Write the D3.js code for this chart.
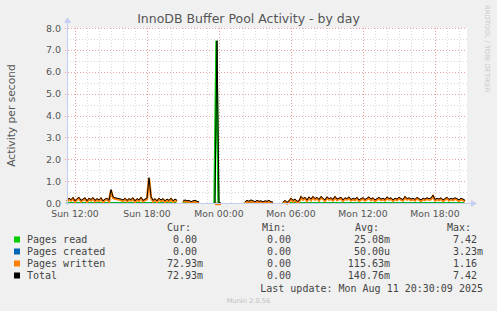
<!DOCTYPE html>
<html>
<head>
<meta charset="utf-8">
<script src="https://cdn.jsdelivr.net/npm/d3@7"></script>
<style>
  html, body { margin: 0; padding: 0; background: #f0f0f0; }
  svg { display: block; }
</style>
</head>
<body>
<div id="chart"></div>
<script>
// 10 minute samples, Sun 11:20 .. Mon 20:30 (null = no data)
const written = [
  0.12,0.22,0.15,0.25,0.1,0.2,0.26,0.12,0.18,0.24,0.1,0.22,0.16,0.25,0.12,0.2,0.14,0.24,0.1,0.18,0.22,0.12,
  0.62,
  0.28,0.24,0.22,0.2,0.18,0.14,0.22,0.12,0.2,0.16,0.24,0.1,0.2,0.14,0.26,0.12,0.18,0.22,
  1.16,0.3,
  0.12,0.2,0.1,0.22,0.14,0.2,0.1,0.18,0.12,0.22,0.1,0.18,0.12,
  null,null,
  0.08,0.14,0.1,0.12,0.06,0.1,0.12,0.08,0.05,
  null,null,null,null,null,null,null,
  0,0,0,0,
  null,null,null,null,null,null,null,null,null,null,null,
  0.06,0.12,0.08,0.14,0.1,0.06,0.12,0.08,0.1,0.05,0.1,0.08,0.12,0.06,0.04,
  null,null,null,null,
  0.04,0.12,0.03,0.1,
  0.22,0.12,0.18,0.08,0.1,0.3,0.2,0.26,0.14,0.28,
  0.18,0.3,0.2,0.26,0.16,0.3,0.22,0.14,0.28,0.2,
  0.24,0.16,0.3,0.18,0.22,0.26,0.14,0.24,0.2,0.28,
  0.16,0.22,0.18,0.26,0.14,0.2,0.24,0.16,0.22,0.28,
  0.18,0.24,0.14,0.2,0.26,0.18,0.22,0.16,0.28,0.2,
  0.24,0.14,0.22,0.18,0.26,0.2,0.16,0.3,0.2,0.24,
  0.18,0.22,0.16,0.26,0.2,0.14,0.22,0.18,0.24,0.2,
  0.22,0.36,0.16,0.22,0.18,0.24,0.14,0.2,0.26,0.16,
  0.22,0.18,0.24,0.2,0.14,0.22,0.18,0.12
];
const read = [
  0,0,0,0,0,0,0,0,0,0,0,0,0,0,0,0,0,0,0,0,0,0,0,0,0,0,0,0,
  0,0,0,0,0,0,0,0,0,0,0,0,0,0,0,0,0,0,0,0,0,0,0,0,0,0,0,0,
  null,null,
  0,0,0,0,0,0,0,0,0,
  null,null,null,null,null,null,null,
  0,7.42,0,0,
  null,null,null,null,null,null,null,null,null,null,null,
  0,0,0,0,0,0,0,0,0,0,0,0,0,0,0,
  null,null,null,null,
  0,0,0,0,0,0,0,0,0,0,0,0,0,0,0,0,0,0,0,0,0,0,0,
  0,0,0,0,0,0,0,0,0,0,0,0,0,0,0,0,0,0,0,0,0,0,0,
  0,0,0,0,0,0,0,0,0,0,0,0,0,0,0,0,0,0,0,0,0,0,0,
  0,0,0,0,0,0,0,0,0,0,0,0,0,0,0,0,0,0,0,0,0,0,0
];
const created = [
  0,0,0,0,0,0,0,0,0,0,0,0,0,0,0,0,0,0,0,0,0,0,0,0,0,0,0,0,
  0,0,0,0,0,0,0,0,0,0,0,0,0,0,0,0,0,0,0,0,0,0,0,0,0,0,0,0,
  null,null,
  0,0,0,0,0,0,0,0,0,
  null,null,null,null,null,null,null,
  0,0,0,0,
  null,null,null,null,null,null,null,null,null,null,null,
  0,0,0,0,0,0,0,0,0,0,0,0,0,0,0,
  null,null,null,null,
  0,0,0,0,0,0,0,0,0,0,0,0,0,0,0,0,0,0,0,0,0,0,0,
  0,0,0,0,0,0,0,0,0,0,0,0,0,0,0,0,0,0,0,0,0,0,0,
  0,0,0,0,0,0,0,0,0,0,0,0,0,0,0,0,0,0,0,0,0,0,0,
  0,0,0.003,0,0,0,0,0,0,0,0,0,0,0,0,0,0,0,0,0,0,0,0
];

const yTicks = [0, 1, 2, 3, 4, 5, 6, 7, 8];
const legendNames = ['Pages read', 'Pages created', 'Pages written', 'Total'];
const legendColors = ['#00cc00', '#0066b3', '#ff8000', '#000000'];
const curVals = ['0.00', '0.00', '72.93m', '72.93m'];
const minVals = ['0.00', '0.00', '0.00', '0.00'];
const avgVals = ['25.08m', '50.00u', '115.63m', '140.76m'];
const maxVals = ['7.42', '3.23m', '1.16', '7.42'];

const width = 497, height = 311;
const plot = { left: 67, right: 467, top: 28, bottom: 203 };
const t0 = new Date(2025, 7, 10, 11, 20);
const t1 = new Date(2025, 7, 11, 20, 40);
const times = written.map((d, i) => d3.timeMinute.offset(t0, 10 * i));
const total = written.map((d, i) => d == null ? null : d + read[i] + created[i]);

const svg = d3.select('#chart').append('svg')
  .attr('width', width).attr('height', height)
  .style('font-family', 'DejaVu Sans, sans-serif');

svg.append('rect').attr('width', width).attr('height', height).attr('fill', '#f0f0f0');

const x = d3.scaleTime().domain([t0, t1]).range([plot.left, plot.right]);
const y = d3.scaleLinear().domain([0, 8]).range([plot.bottom, plot.top]);

svg.append('rect')
  .attr('x', plot.left).attr('y', plot.top)
  .attr('width', plot.right - plot.left).attr('height', plot.bottom - plot.top)
  .attr('fill', '#ffffff');

// grid
const grid = svg.append('g').attr('shape-rendering', 'crispEdges');
d3.range(0.5, 8, 1).forEach(v => {
  grid.append('line')
    .attr('x1', plot.left).attr('x2', plot.right)
    .attr('y1', Math.round(y(v)) + 0.5).attr('y2', Math.round(y(v)) + 0.5)
    .attr('stroke', '#d8d8d8').attr('stroke-dasharray', '1,2');
});
x.ticks(d3.timeHour.every(1)).filter(t => t.getHours() % 6 !== 0).forEach(t => {
  grid.append('line')
    .attr('x1', Math.round(x(t)) + 0.5).attr('x2', Math.round(x(t)) + 0.5)
    .attr('y1', plot.top).attr('y2', plot.bottom)
    .attr('stroke', '#d8d8d8').attr('stroke-dasharray', '1,2');
});
yTicks.forEach(v => {
  grid.append('line')
    .attr('x1', plot.left - 2).attr('x2', plot.right)
    .attr('y1', Math.round(y(v)) + 0.5).attr('y2', Math.round(y(v)) + 0.5)
    .attr('stroke', '#eba2a2').attr('stroke-dasharray', '1,2');
});
const majorX = x.ticks(d3.timeHour.every(6));
majorX.forEach(t => {
  grid.append('line')
    .attr('x1', Math.round(x(t)) + 0.5).attr('x2', Math.round(x(t)) + 0.5)
    .attr('y1', plot.top).attr('y2', plot.bottom + 2)
    .attr('stroke', '#eba2a2').attr('stroke-dasharray', '1,2');
});

// series lines
const line = values => d3.line()
  .defined((d, i) => values[i] != null)
  .x((d, i) => x(times[i]))
  .y((d, i) => y(values[i]))(values);

svg.append('path').attr('d', line(read)).attr('fill', 'none')
  .attr('stroke', '#00cc00').attr('stroke-width', 2.2)
  .attr('transform', 'translate(-0.6,0)');
svg.append('path').attr('d', line(created)).attr('fill', 'none')
  .attr('stroke', '#0066b3').attr('stroke-width', 1).attr('stroke-opacity', 0.35);
svg.append('path').attr('d', line(written)).attr('fill', 'none')
  .attr('stroke', '#ff8000').attr('stroke-width', 2.4)
  .attr('transform', 'translate(0,1)');
svg.append('path').attr('d', line(total)).attr('fill', 'none')
  .attr('stroke', '#000000').attr('stroke-width', 1);

// axes
const axisColor = '#c6cdf2';
svg.append('line')
  .attr('x1', plot.left + 0.5).attr('x2', plot.left + 0.5)
  .attr('y1', plot.bottom + 2).attr('y2', plot.top - 6)
  .attr('stroke', axisColor);
svg.append('path')
  .attr('d', `M${plot.left - 3},${plot.top - 5}L${plot.left + 0.5},${plot.top - 11}L${plot.left + 4},${plot.top - 5}Z`)
  .attr('fill', axisColor);
svg.append('line')
  .attr('x1', plot.left - 2).attr('x2', plot.right + 6)
  .attr('y1', plot.bottom + 0.5).attr('y2', plot.bottom + 0.5)
  .attr('stroke', axisColor);
svg.append('path')
  .attr('d', `M${plot.right + 4},${plot.bottom - 3}L${plot.right + 10},${plot.bottom + 0.5}L${plot.right + 4},${plot.bottom + 4}Z`)
  .attr('fill', axisColor);

// tick labels
const textColor = '#555555';
svg.append('g').selectAll('text').data(yTicks).join('text')
  .attr('x', plot.left - 6).attr('y', d => y(d) + 3.5)
  .attr('text-anchor', 'end').attr('font-size', 9.5).attr('fill', textColor)
  .text(d3.format('.1f'));
svg.append('g').selectAll('text').data(majorX).join('text')
  .attr('x', d => x(d)).attr('y', plot.bottom + 13.5)
  .attr('text-anchor', 'middle').attr('font-size', 9.3).attr('fill', textColor)
  .text(d3.timeFormat('%a %H:%M'));

// titles
svg.append('text').attr('x', width / 2).attr('y', 23)
  .attr('text-anchor', 'middle').attr('font-size', 12.5).attr('fill', textColor)
  .text('InnoDB Buffer Pool Activity - by day');
svg.append('text')
  .attr('transform', `translate(15,${(plot.top + plot.bottom) / 2}) rotate(-90)`)
  .attr('text-anchor', 'middle').attr('font-size', 10.7).attr('fill', textColor)
  .text('Activity per second');
svg.append('text')
  .attr('transform', 'translate(485,5) rotate(90)')
  .attr('font-size', 6.8).attr('fill', '#c8c8c8')
  .text('RRDTOOL / TOBI OETIKER');

// legend
const mono = 'DejaVu Sans Mono, monospace';
const cw = 6.02;
const legend = svg.append('g').style('font-family', mono).attr('font-size', 10).attr('fill', '#444');
[['Cur:', 167], ['Min:', 262], ['Avg:', 355], ['Max:', 447]].forEach(([h, hx]) => {
  legend.append('text').attr('x', hx).attr('y', 231).text(h);
});
const cols = [[curVals, 203], [minVals, 297], [avgVals, 390], [maxVals, 483]];
legendNames.forEach((name, i) => {
  const ry = 243 + i * 12;
  legend.append('rect').attr('x', 14).attr('y', ry - 6.5).attr('width', 6).attr('height', 6)
    .attr('fill', legendColors[i]);
  legend.append('text').attr('x', 27).attr('y', ry).text(name);
  cols.forEach(([vals, cx]) => {
    const v = vals[i];
    const hasSuffix = /[a-zA-Z]$/.test(v);
    legend.append('text')
      .attr('x', hasSuffix ? cx : cx - cw).attr('y', ry)
      .attr('text-anchor', 'end').text(v);
  });
});
legend.append('text').attr('x', 483).attr('y', 292).attr('text-anchor', 'end')
  .text('Last update: Mon Aug 11 20:30:09 2025');

svg.append('text').attr('x', width / 2).attr('y', 303)
  .attr('text-anchor', 'middle').attr('font-size', 6.7).attr('fill', '#c0c0c0')
  .text('Munin 2.0.56');
</script>
</body>
</html>
